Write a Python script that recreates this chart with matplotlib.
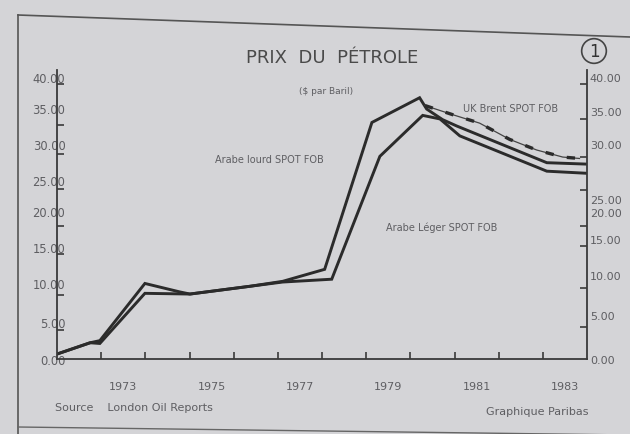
import matplotlib
matplotlib.use("Agg")
import matplotlib.pyplot as plt
from matplotlib.lines import Line2D

# --- data ($ par baril) ---
t_lourd = [1972.0, 1972.75, 1972.97, 1973.99, 1974.78, 1975.01, 1976.37, 1977.11, 1978.06,
           1979.13, 1980.21, 1980.37, 1980.73, 1981.05, 1983.09, 1984.0]
lourd = [0.7, 2.3, 2.6, 10.7, 9.5, 9.2, 10.3, 11.0, 12.7,
         33.5, 37.0, 35.4, 33.9, 33.0, 27.8, 27.6]

t_leger = [1972.0, 1972.75, 1972.97, 1973.99, 1975.01, 1976.37, 1977.11, 1978.22,
           1979.31, 1980.28, 1980.67, 1981.12, 1983.09, 1984.0]
leger = [0.7, 2.3, 2.2, 9.3, 9.2, 10.3, 10.9, 11.3,
         28.7, 34.5, 34.0, 31.6, 26.6, 26.3]

t_brent = [1980.33, 1980.96, 1981.57, 1982.25, 1982.86, 1983.45, 1983.83]
brent = [35.9, 34.6, 33.4, 31.1, 29.6, 28.6, 28.4]

year_labels = ["1973", "1975", "1977", "1979", "1981", "1983"]

left_labels = ["0.00", "5.00", "10.00", "15.00", "20.00", "25.00", "30.00", "35.00", "40.00"]
left_label_pos = [0, 5.3, 10.7, 15.9, 20.9, 25.4, 30.5, 35.5, 40.0]
left_tick_pos = [4.1, 9.1, 14.8, 18.8, 24.1, 29.1, 33.2, 38.9]

right_labels = ["0.00", "5.00", "10.00", "15.00", "20.00", "25.00", "30.00", "35.00", "40.00"]
right_label_pos = [0, 6.3, 11.9, 17.0, 20.8, 22.6, 30.5, 35.1, 40.0]
right_tick_pos = [4.5, 10.0, 16.0, 18.8, 24.0, 28.6, 34.0, 38.9]

W, H = 630, 435
PAPER = "#d4d4d7"
INK = "#2b2b2b"
GREY = "#5e5e62"
plt.rcParams["font.family"] = ["DejaVu Sans"]


def fx(x):
    return x / W


def fy(y):
    return 1 - y / H


fig = plt.figure(figsize=(W / 100, H / 100), dpi=100, facecolor=PAPER)

# frame of the printed page
fig.add_artist(Line2D([fx(18), fx(630)], [fy(16), fy(38)], color="#555", lw=1.2))
fig.add_artist(Line2D([fx(18), fx(18)], [fy(16), fy(435)], color="#555", lw=1.2))
fig.add_artist(Line2D([fx(18), fx(630)], [fy(428), fy(436)], color="#666", lw=1.0))

y0, ytop = 360, 70.5
ax = fig.add_axes([fx(57), fy(y0), (587 - 57) / W, (y0 - ytop) / H])
ax.set_facecolor("none")
ax.set_xlim(1972, 1984)
ax.set_ylim(0, 41)

ax.plot(t_lourd, lourd, color=INK, lw=2.1, solid_joinstyle="miter")
ax.plot(t_leger, leger, color=INK, lw=2.1, solid_joinstyle="miter")
ax.plot(t_brent, brent, color="#444", lw=0.9)
ax.plot(t_brent, brent, color=INK, lw=2.4, linestyle=(0, (2.5, 4)))

ax.spines["top"].set_visible(False)
for s in ("left", "bottom", "right"):
    ax.spines[s].set_color("#3a3a3a")
    ax.spines[s].set_linewidth(1.3)

ax.set_xticks(range(1973, 1984))
ax.set_xticklabels([])
ax.tick_params(axis="x", direction="in", length=5, width=1.2, color="#3a3a3a")

ax.set_yticks(left_label_pos)
ax.set_yticklabels(left_labels)
ax.set_yticks(left_tick_pos, minor=True)
ax.tick_params(axis="y", which="major", length=0, pad=-6, labelsize=8.3, labelcolor=GREY)
ax.tick_params(axis="y", which="minor", direction="in", length=5, width=1.2, color="#3a3a3a")

ax2 = ax.twinx()
ax2.set_ylim(0, 41)
for s in ("top", "left", "bottom", "right"):
    ax2.spines[s].set_visible(False)
ax2.set_yticks(right_label_pos)
ax2.set_yticklabels(right_labels)
ax2.set_yticks(right_tick_pos, minor=True)
ax2.tick_params(axis="y", which="major", length=0, pad=2, labelsize=8, labelcolor=GREY)
ax2.tick_params(axis="y", which="minor", direction="in", length=5, width=1.2, color="#3a3a3a")

for lab in year_labels:
    ax.text(int(lab) + 0.5, -3.8, lab, ha="center", va="center", fontsize=8, color=GREY,
            clip_on=False)

# titles and notes
fig.text(fx(332), fy(58), "PRIX  DU  PÉTROLE", ha="center", va="center", fontsize=13,
         color="#4a4a4a")
fig.text(fx(594), fy(52), "1", ha="center", va="center", fontsize=12, color="#333",
         bbox=dict(boxstyle="circle,pad=0.2", fc="none", ec="#444", lw=1.2))
fig.text(fx(326), fy(92), "($ par Baril)", ha="center", va="center", fontsize=6.5, color=GREY)
fig.text(fx(269), fy(160), "Arabe lourd SPOT FOB", ha="center", va="center", fontsize=7,
         color=GREY)
fig.text(fx(442), fy(228), "Arabe Léger SPOT FOB", ha="center", va="center", fontsize=7,
         color=GREY)
fig.text(fx(511), fy(109), "UK Brent SPOT FOB", ha="center", va="center", fontsize=7,
         color=GREY)
fig.text(fx(55), fy(408), "Source    London Oil Reports", ha="left", va="center", fontsize=8,
         color=GREY)
fig.text(fx(588), fy(412), "Graphique Paribas", ha="right", va="center", fontsize=8,
         color=GREY)

fig.savefig("out.png", dpi=100, facecolor=PAPER)
